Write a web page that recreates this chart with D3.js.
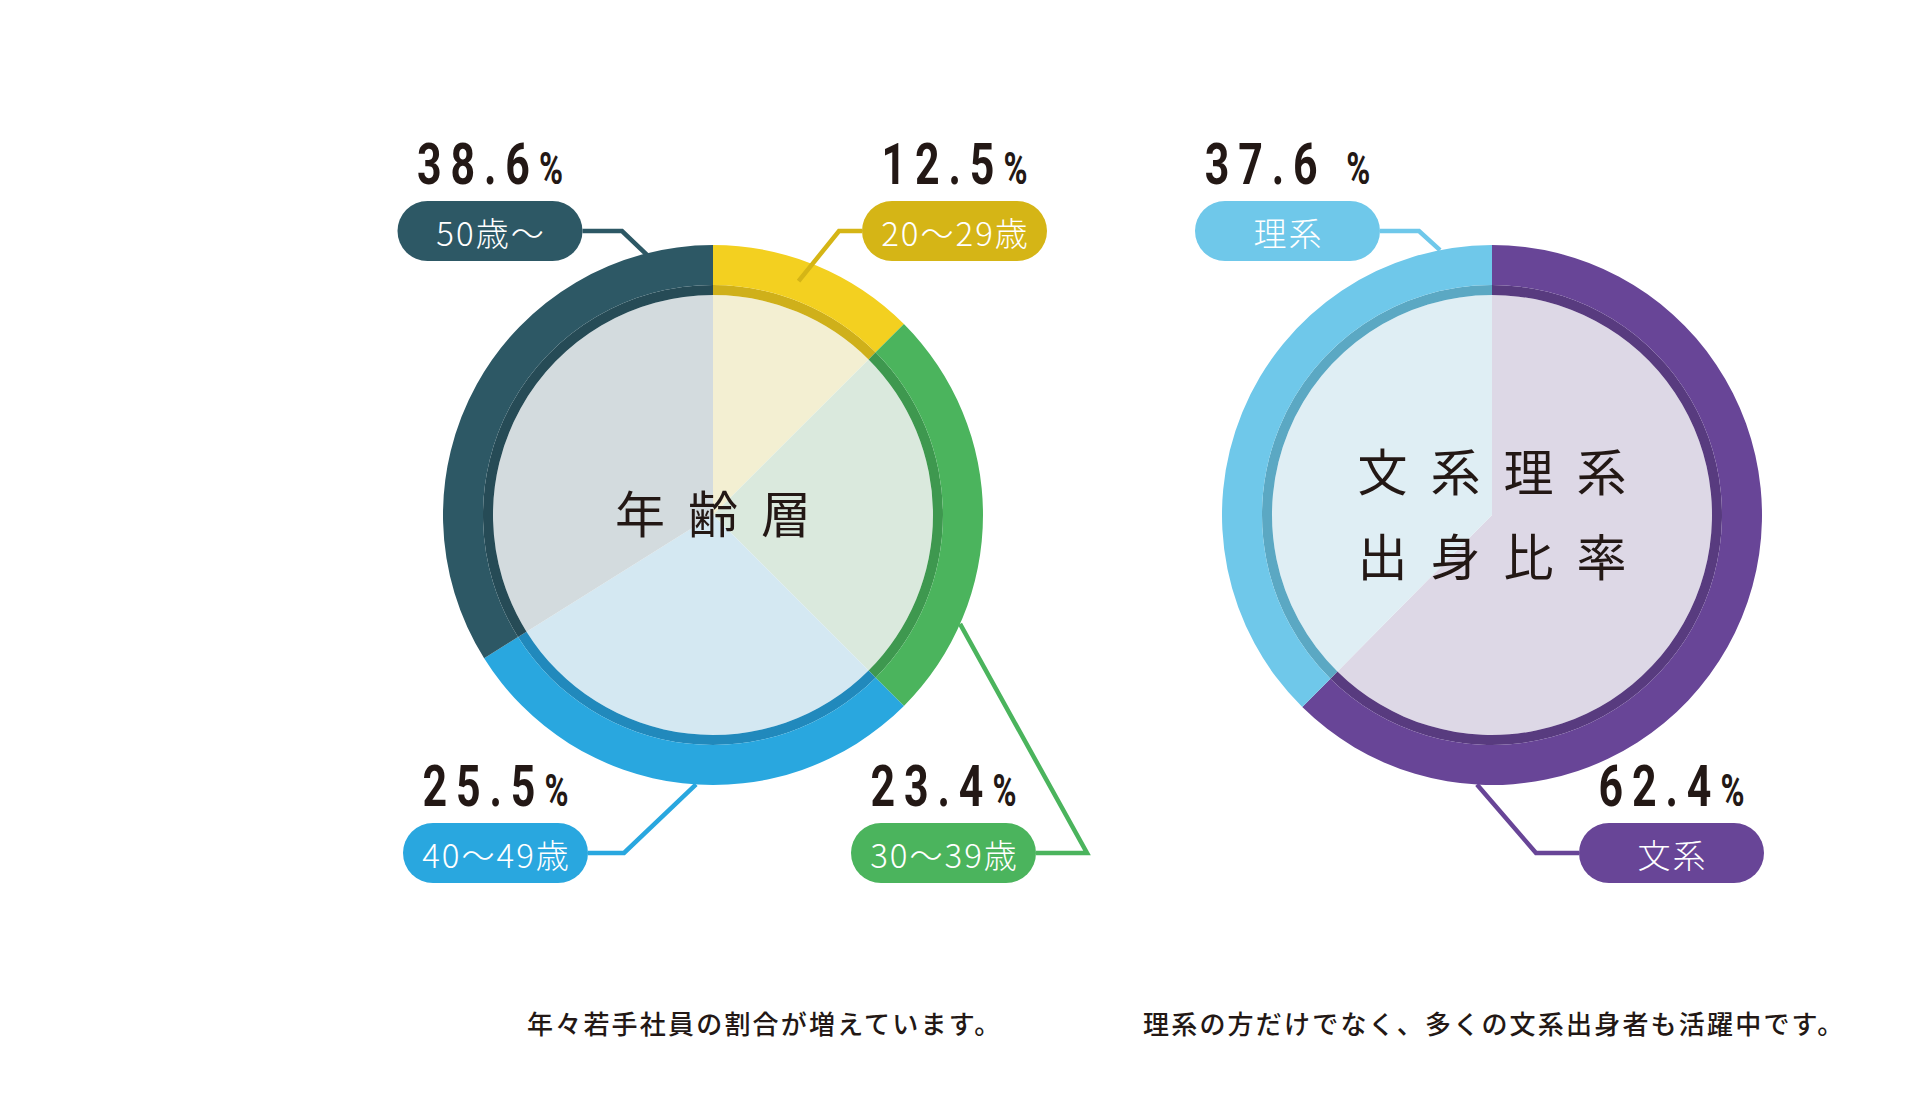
<!DOCTYPE html>
<html><head><meta charset="utf-8">
<script src="https://cdn.jsdelivr.net/npm/d3@7"></script>
<style>body{margin:0;background:#fff;} svg{display:block;}</style>
</head><body>
<svg id="c" width="1920" height="1120"></svg>
<script>
// ---- data ----
const ageCategories = ["20～29歳", "30～39歳", "40～49歳", "50歳～"];
const ageShares = [12.5, 25.0, 28.6, 33.9];          // arc sizes as drawn in the picture
const agePercentLabels = ["12.5", "23.4", "25.5", "38.6"];
const majorCategories = ["文系", "理系"];
const majorShares = [62.4, 37.6];
const majorPercentLabels = ["62.4", "37.6 "];
const ageTitle = [["年", "齢", "層"]];
const majorTitle = [["文", "系", "理", "系"], ["出", "身", "比", "率"]];
const notes = ["年々若手社員の割合が増えています。", "理系の方だけでなく、多くの文系出身者も活躍中です。"];

// ---- styles ----
const ageColors = [
  {ring: "#f3d020", band: "#cfb01a", pale: "#f3efd2", pill: "#d5b516", line: "#d5b516"},
  {ring: "#4bb45d", band: "#3e984f", pale: "#dae9dd", pill: "#4bb45d", line: "#4bb45d"},
  {ring: "#29a7df", band: "#2189bc", pale: "#d4e8f2", pill: "#29a7df", line: "#29a7df"},
  {ring: "#2d5865", band: "#264b56", pale: "#d3dbde", pill: "#2d5865", line: "#2d5865"}
];
const majorColors = [
  {ring: "#684597", band: "#583b7f", pale: "#ddd8e6", pill: "#684597", line: "#684597"},
  {ring: "#6fc8ea", band: "#5ba8c3", pale: "#dfeef4", pill: "#6fc8ea", line: "#6fc8ea"}
];
const ageLayout = [
  {px: 954.5, py: 231, angle: 20.1, r: 249, elbowX: 839},
  {px: 943.5, py: 853, angle: 113.8, r: 270, elbowX: 1087},
  {px: 495.5, py: 853, angle: 183.6, r: 270, elbowX: 624},
  {px: 490, py: 231, angle: 345.8, r: 268, elbowX: 622}
];
const majorLayout = [
  {px: 1671.5, py: 853, angle: 183.2, r: 270, elbowX: 1536},
  {px: 1287.5, py: 231, angle: 348.9, r: 270, elbowX: 1419}
];

const INK = "#231815";
const R_OUT = 270, R_RING = 230, R_PALE = 220;
const svg = d3.select("#c");

function drawChart(cx, cy, shares, colors, cats, pctLabels, layout, title) {
  const g = svg.append("g");
  const pie = d3.pie().sort(null).value(d => d);
  const arcsData = pie(shares);
  const pale = d3.arc().innerRadius(0).outerRadius(R_PALE);
  const band = d3.arc().innerRadius(R_PALE).outerRadius(R_RING);
  const ring = d3.arc().innerRadius(R_RING).outerRadius(R_OUT);
  const dg = g.append("g").attr("transform", `translate(${cx},${cy})`);
  dg.selectAll("path.pale").data(arcsData).join("path").attr("class", "pale")
    .attr("d", pale).attr("fill", (d, i) => colors[i].pale);
  dg.selectAll("path.band").data(arcsData).join("path").attr("class", "band")
    .attr("d", band).attr("fill", (d, i) => colors[i].band);
  dg.selectAll("path.ring").data(arcsData).join("path").attr("class", "ring")
    .attr("d", ring).attr("fill", (d, i) => colors[i].ring);

  // title
  const step = 73, lineStep = 85;
  title.forEach((row, ri) => {
    const y0 = cy + (ri - (title.length - 1) / 2) * lineStep - 4;
    g.selectAll(null).data(row).join("text")
      .attr("x", (d, i) => cx + (i - (row.length - 1) / 2) * step)
      .attr("y", y0)
      .attr("text-anchor", "middle").attr("dominant-baseline", "central")
      .attr("font-family", "'Noto Sans CJK JP', sans-serif")
      .attr("font-weight", 400).attr("font-size", 50).attr("fill", INK)
      .text(d => d);
  });

  // labels
  cats.forEach((cat, i) => {
    const L = layout[i], c = colors[i];
    const a = L.angle * Math.PI / 180;
    const ax = cx + L.r * Math.sin(a), ay = cy - L.r * Math.cos(a);
    const edgeX = L.elbowX > L.px ? L.px + 92.5 : L.px - 92.5;
    g.append("path")
      .attr("d", d3.line()([[edgeX, L.py], [L.elbowX, L.py], [ax, ay]]))
      .attr("fill", "none").attr("stroke", c.line).attr("stroke-width", 4.5)
      .attr("stroke-linejoin", "miter");
    g.append("rect").attr("x", L.px - 92.5).attr("y", L.py - 30)
      .attr("width", 185).attr("height", 60).attr("rx", 30).attr("fill", c.pill);
    g.append("text").attr("x", L.px + 1).attr("y", L.py + 1)
      .attr("text-anchor", "middle").attr("dominant-baseline", "central")
      .attr("font-family", "'Noto Sans CJK JP', sans-serif")
      .attr("font-weight", 300).attr("font-size", 33).attr("letter-spacing", 2)
      .attr("fill", "#fff").text(cat);
    // percent label
    const pg = g.append("g");
    const t = pg.append("text").attr("x", 0).attr("y", 0)
      .attr("font-family", "Roboto, 'Liberation Sans', sans-serif")
      .attr("font-weight", 700).attr("fill", INK);
    t.append("tspan").attr("font-size", 58).attr("letter-spacing", 12).text(pctLabels[i]);
    t.append("tspan").attr("font-size", 44).text("%");
    const w = t.node().getBBox().width;
    const sx = 0.74;
    pg.attr("transform", `translate(${L.px - w * sx / 2},${L.py - 47}) scale(${sx},1)`);
  });
}

drawChart(713, 515, ageShares, ageColors, ageCategories, agePercentLabels, ageLayout, ageTitle);
drawChart(1492, 515, majorShares, majorColors, majorCategories, majorPercentLabels, majorLayout, majorTitle);

// notes
const noteX = [527, 1143];
svg.selectAll("text.note").data(notes).join("text").attr("class", "note")
  .attr("x", (d, i) => noteX[i]).attr("y", 1034)
  .attr("font-family", "'Noto Sans CJK JP', sans-serif")
  .attr("font-weight", 500).attr("font-size", 26).attr("letter-spacing", 2.2)
  .attr("fill", INK).text(d => d);
</script>
</body></html>
